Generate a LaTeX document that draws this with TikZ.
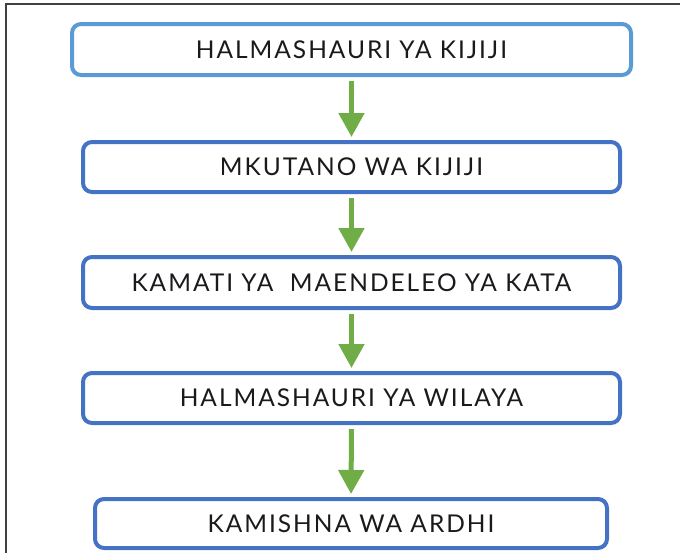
\documentclass[tikz,border=0pt]{standalone}
\usepackage{fontspec}
\setmainfont{Lato}
\newfontfamily\boxfont[LetterSpace=8]{Lato}
\usetikzlibrary{arrows.meta}
\definecolor{lightblue}{HTML}{5B9BD5}
\definecolor{midblue}{HTML}{4472C4}
\definecolor{leafgreen}{HTML}{70AD47}
\definecolor{inkgray}{HTML}{1A1A1A}
\definecolor{framegray}{HTML}{404040}
\begin{document}
\begin{tikzpicture}[x=1pt,y=-1pt,
  stagebox/.style={draw=midblue, line width=4pt, rounded corners=9pt, fill=white,
    minimum width=537pt, minimum height=50pt, inner sep=0pt,
    font=\boxfont\fontsize{24.5}{28}\selectfont, text=inkgray},
  flowarrow/.style={draw=leafgreen, line width=5pt,
    -{Triangle[width=25pt,length=24pt]}, shorten <=4pt, shorten >=3pt}]
  \useasboundingbox (0,0) rectangle (680,552);
  % outer page frame (top and left edges)
  \draw[framegray, line width=1.2pt] (6,560) -- (6,4) -- (690,4);

  \node[stagebox, draw=lightblue, minimum width=559pt, minimum height=51pt] (s1) at (351.5,49.5) {HALMASHAURI YA KIJIJI};
  \node[stagebox] (s2) at (351.5,167) {MKUTANO WA KIJIJI};
  \node[stagebox, minimum height=51pt] (s3) at (351.5,282.5) {KAMATI YA\ \ MAENDELEO YA KATA};
  \node[stagebox] (s4) at (351.5,398) {HALMASHAURI YA WILAYA};
  \node[stagebox, minimum width=512pt, minimum height=49pt] (s5) at (351,523.5) {KAMISHNA WA ARDHI};

  \draw[flowarrow] (s1.south) -- (s2.north);
  \draw[flowarrow] (s2.south) -- (s3.north);
  \draw[flowarrow] (s3.south) -- (s4.north);
  \draw[flowarrow] (s4.south) -- (s5.north);
\end{tikzpicture}
\end{document}
